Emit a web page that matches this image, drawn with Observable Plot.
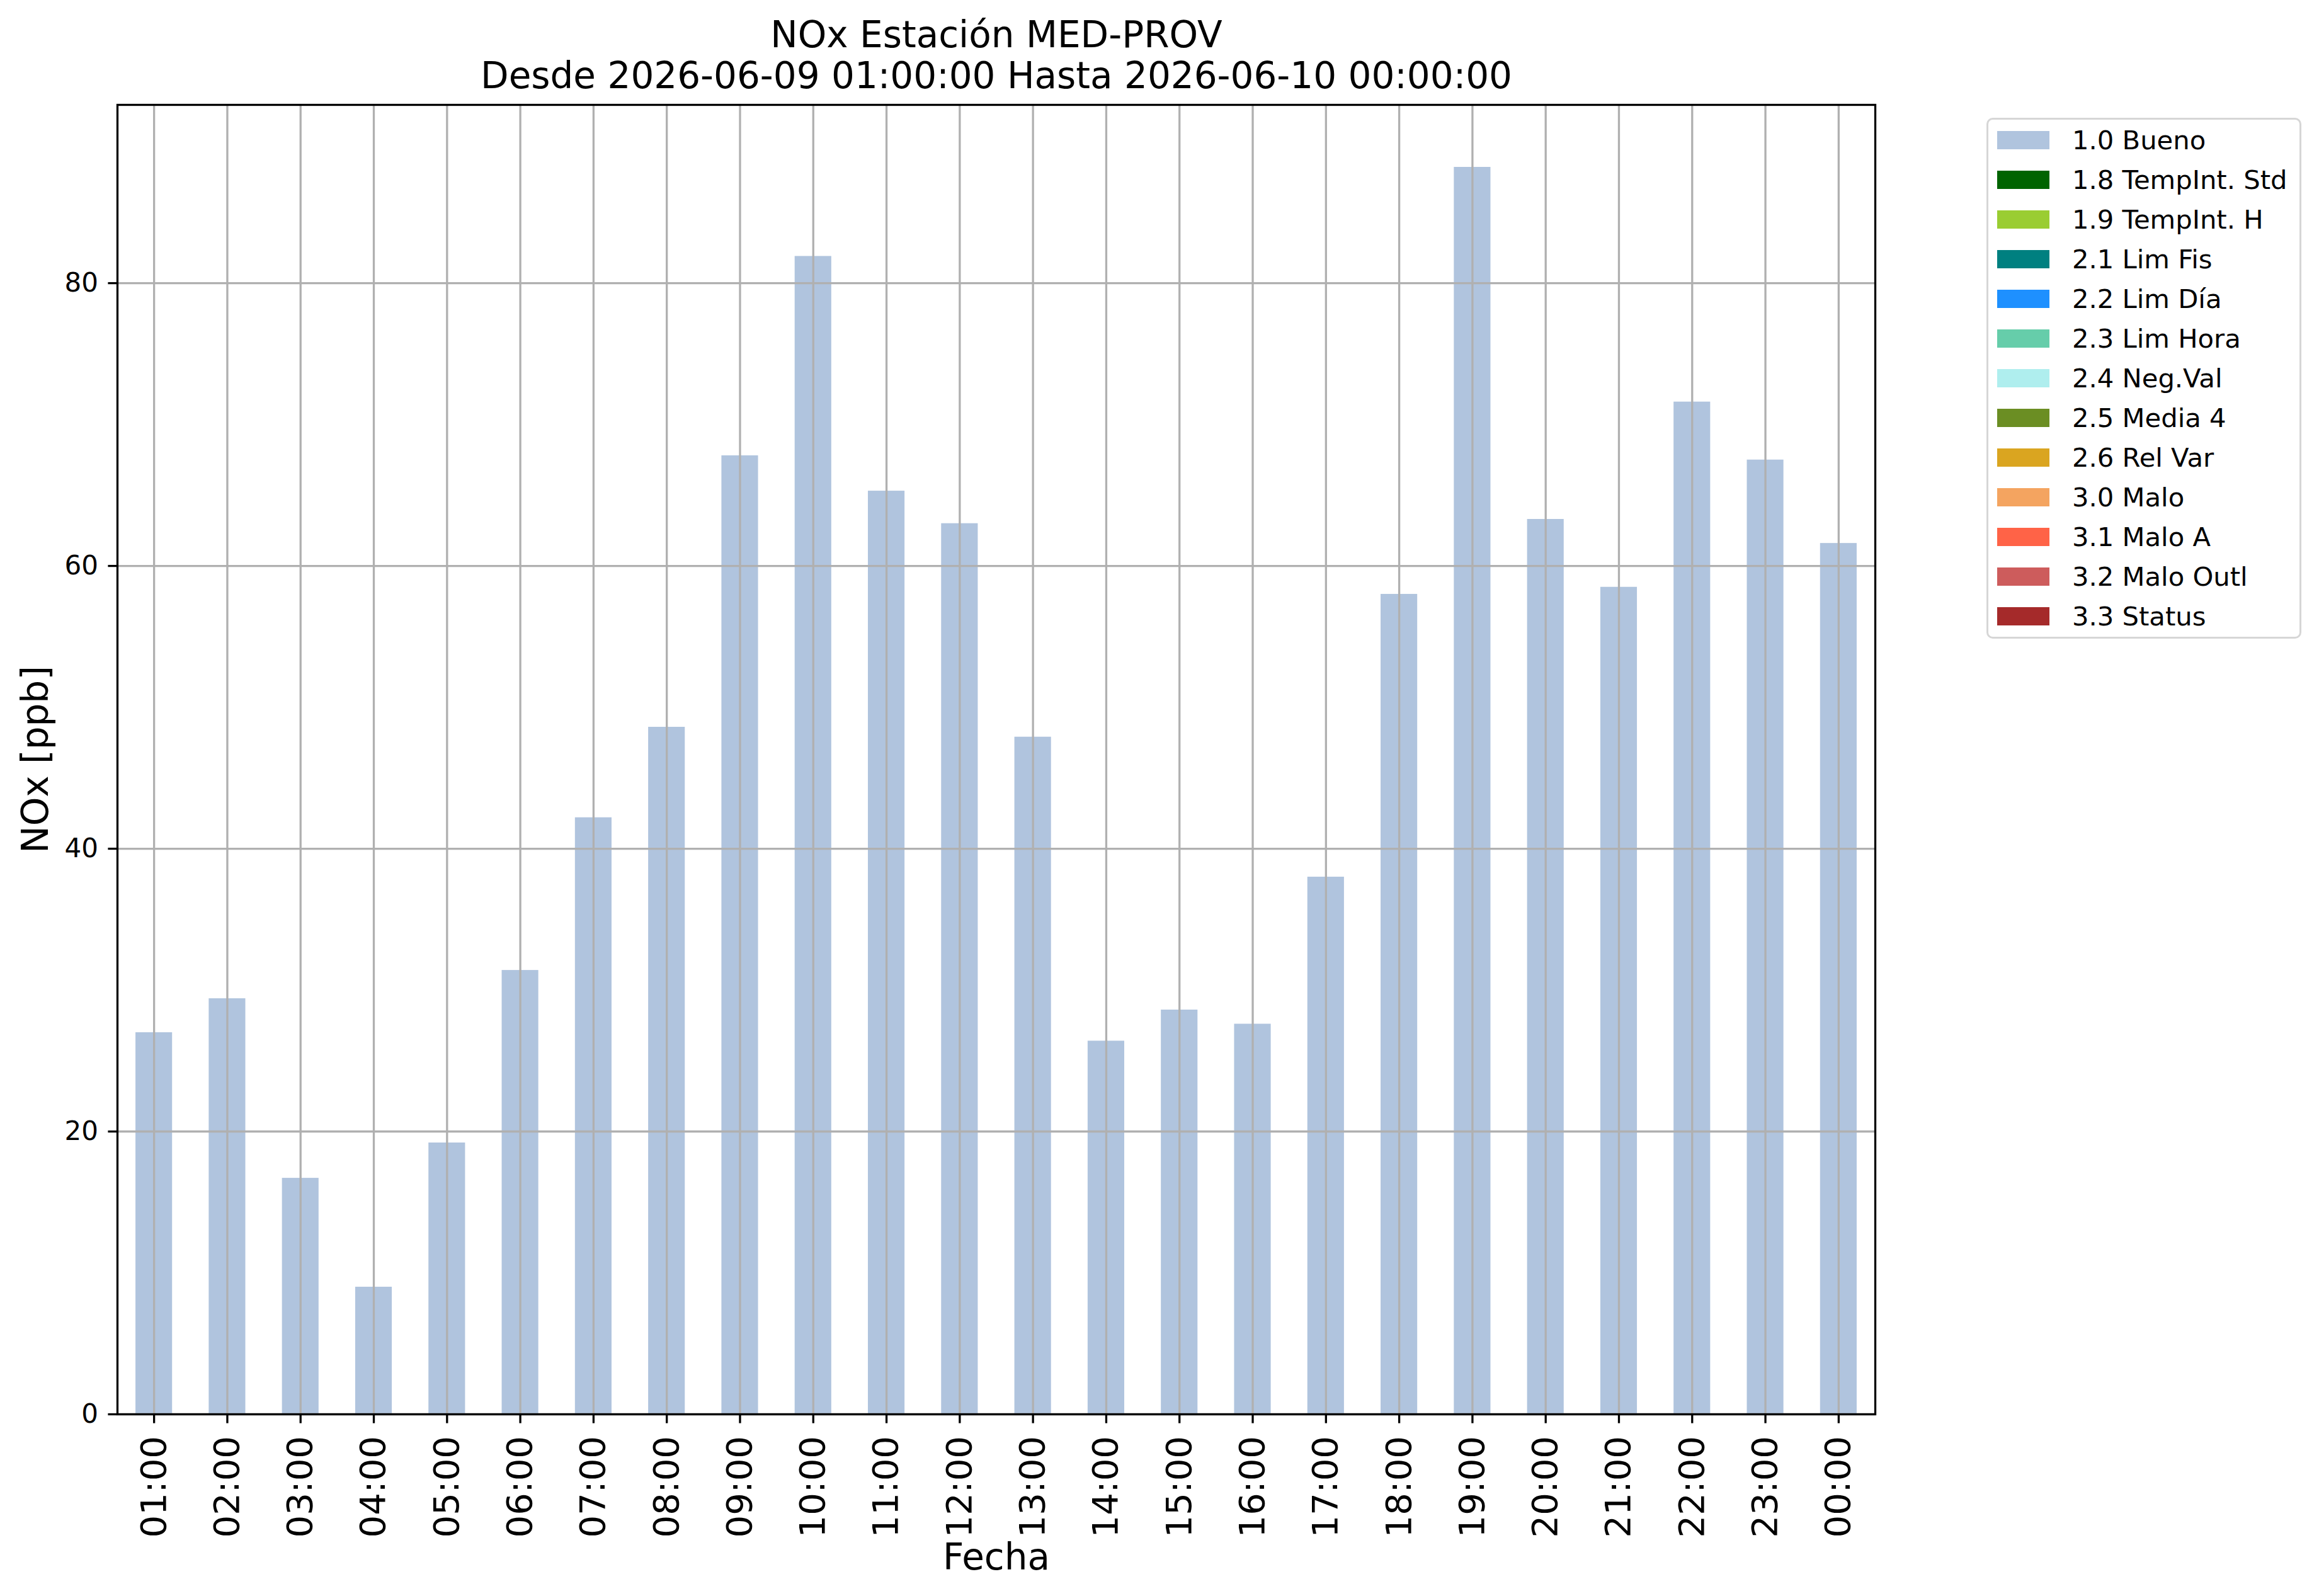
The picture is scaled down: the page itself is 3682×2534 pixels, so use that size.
<!DOCTYPE html>
<html>
<head>
<meta charset="utf-8">
<script src="https://cdn.jsdelivr.net/npm/d3@7"></script>
<script src="https://cdn.jsdelivr.net/npm/@observablehq/plot@0.6"></script>
<style>
  html, body { margin: 0; padding: 0; background: white; }
  #wrap { position: relative; width: 3682px; height: 2534px; font-family: "DejaVu Sans", sans-serif; }
  #legend { position: absolute; left: 3154px; top: 187px; width: 494px; height: 821px;
            border: 3.5px solid #d6d6d6; border-radius: 10px; background: white; box-sizing: content-box; }
  .row { position: absolute; left: 14px; height: 63px; display: flex; align-items: center; font-size: 41.7px; color: black; white-space: nowrap; }
  .sw { width: 83px; height: 29px; margin-right: 36px; flex: none; }
</style>
</head>
<body>
<div id="wrap"></div>
<script>
const horas = ["01:00","02:00","03:00","04:00","05:00","06:00","07:00","08:00","09:00","10:00","11:00","12:00",
               "13:00","14:00","15:00","16:00","17:00","18:00","19:00","20:00","21:00","22:00","23:00","00:00"];
const nox = [27.0, 29.4, 16.7, 9.0, 19.2, 31.4, 42.2, 48.6, 67.8, 81.9, 65.3, 63.0,
             47.9, 26.4, 28.6, 27.6, 38.0, 58.0, 88.2, 63.3, 58.5, 71.6, 67.5, 61.6];
const yTicks = [0, 20, 40, 60, 80];
const legendLabels = ["1.0 Bueno","1.8 TempInt. Std","1.9 TempInt. H","2.1 Lim Fis","2.2 Lim Día","2.3 Lim Hora",
                      "2.4 Neg.Val","2.5 Media 4","2.6 Rel Var","3.0 Malo","3.1 Malo A","3.2 Malo Outl","3.3 Status"];
const legendColors = ["#b0c4de","#006400","#9acd32","#008080","#1e90ff","#66cdaa",
                      "#afeeee","#6b8e23","#daa520","#f4a460","#ff6347","#cd5c5c","#a52a2a"];
const titleLines = ["NOx Estación MED-PROV", "Desde 2026-06-09 01:00:00 Hasta 2026-06-10 00:00:00"];
const xLabel = "Fecha";
const yLabel = "NOx [ppb]";

const data = horas.map((h, i) => ({hora: h, nox: nox[i]}));
const ymax = d3.max(nox) * 1.05;

const chart = Plot.plot({
  width: 3682,
  height: 2534,
  marginLeft: 186,
  marginRight: 705,
  marginTop: 166,
  marginBottom: 289,
  style: {fontFamily: "DejaVu Sans", background: "white", color: "black"},
  x: {type: "band", domain: horas, paddingInner: 0.5, paddingOuter: 0.25, round: false},
  y: {domain: [0, ymax]},
  marks: [
    Plot.barY(data, {x: "hora", y: "nox", fill: "#b0c4de"}),
    Plot.ruleX(horas, {x: d => d, stroke: "#b0b0b0", strokeWidth: 3.3}),
    Plot.ruleY(yTicks, {y: d => d, stroke: "#b0b0b0", strokeWidth: 3.3}),
    Plot.frame({stroke: "black", strokeWidth: 3.3}),
    Plot.axisX({tickRotate: -90, fontSize: 56, tickSize: 14.6, tickPadding: 20, strokeWidth: 3.3, label: null}),
    Plot.axisY({ticks: yTicks, fontSize: 42, tickSize: 14.6, tickPadding: 16, strokeWidth: 3.3, label: null}),
    Plot.text([titleLines[0]], {text: d => d, frameAnchor: "top", dy: -110, fontSize: 58, lineAnchor: "middle"}),
    Plot.text([titleLines[1]], {text: d => d, frameAnchor: "top", dy: -45, fontSize: 58, lineAnchor: "middle"}),
    Plot.text([xLabel], {text: d => d, frameAnchor: "bottom", dy: 228, fontSize: 58, lineAnchor: "middle"}),
    Plot.text([yLabel], {text: d => d, frameAnchor: "left", textAnchor: "middle", dx: -129, rotate: -90, fontSize: 58, lineAnchor: "middle"})
  ]
});
const wrap = document.getElementById("wrap");
wrap.appendChild(chart);

const legend = document.createElement("div");
legend.id = "legend";
legendLabels.forEach((lab, i) => {
  const row = document.createElement("div");
  row.className = "row";
  row.style.top = (1 + 63 * i) + "px";
  const sw = document.createElement("div");
  sw.className = "sw";
  sw.style.background = legendColors[i];
  const t = document.createElement("span");
  t.textContent = lab;
  row.appendChild(sw);
  row.appendChild(t);
  legend.appendChild(row);
});
wrap.appendChild(legend);
</script>
</body>
</html>
